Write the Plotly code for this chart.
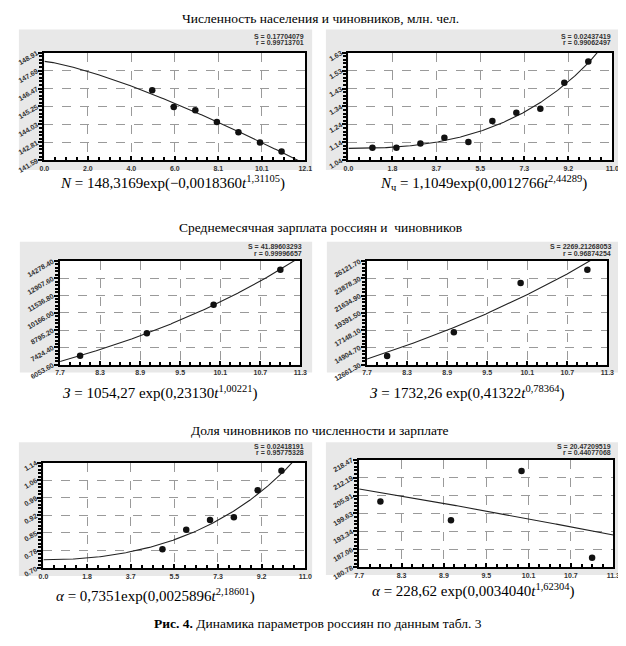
import numpy as np
import plotly.graph_objects as go

W, H = 626, 646

# --- data ---
pop_t = [5, 6, 7, 8, 9, 10, 11]
pop_total = [146.35, 145.21, 144.99, 144.19, 143.49, 142.80, 142.19]

off_t = [1, 2, 3, 4, 5, 6, 7, 8, 9, 10]
off_count = [1.109, 1.109, 1.132, 1.163, 1.140, 1.255, 1.301, 1.323, 1.465, 1.582]

wage_t = [8, 9, 10, 11]
wage_all = [6770, 8550, 10800, 13590]
wage_off = [13800, 16870, 23260, 24990]

share_t = [5, 6, 7, 8, 9, 10]
share_count = [0.779, 0.860, 0.901, 0.912, 1.025, 1.106]
share_wage = [203.8, 197.2, 214.5, 184.1]

# fitted model y = a*exp(b*t^c)
fit_pop = (148.3169, -0.0018360, 1.31105)
fit_off = (1.1049, 0.0012766, 2.44289)
fit_wage_all = (1054.27, 0.23130, 1.00221)
fit_wage_off = (1732.26, 0.41322, 0.78364)
fit_share_count = (0.7351, 0.0025896, 2.18601)
fit_share_wage = (228.62, -0.0034040, 1.62304)

# tick labels
x_ticks_a = ["0.0", "2.0", "4.0", "6.0", "8.1", "10.1", "12.1"]
x_ticks_b = ["0.0", "1.8", "3.7", "5.5", "7.3", "9.2", "11.0"]
x_ticks_c = ["7.7", "8.3", "8.9", "9.5", "10.1", "10.7", "11.3"]
y_ticks_pop = ["141.59", "142.81", "144.03", "145.25", "146.47", "147.69", "148.91"]
y_ticks_off = ["1.04", "1.14", "1.24", "1.34", "1.43", "1.53", "1.63"]
y_ticks_wage_all = ["6053.60", "7424.40", "8795.20", "10166.00", "11536.80", "12907.60", "14278.40"]
y_ticks_wage_off = ["12661.30", "14904.70", "17148.10", "19391.50", "21634.90", "23878.30", "26121.70"]
y_ticks_share_count = ["0.70", "0.78", "0.85", "0.92", "0.99", "1.06", "1.14"]
y_ticks_share_wage = ["180.78", "187.06", "193.34", "199.63", "205.91", "212.19", "218.47"]

panels = [
    dict(t=pop_t, y=pop_total, fit=fit_pop, xt=x_ticks_a, yt=y_ticks_pop,
         box=(32, 298, 43, 154), bg=(6, 305, 19, 164), sy=(26, 33), sx=298,
         stats=("S = 0.17704079", "r = 0.99713701"),
         formula="<i>N</i> = 148,3169exp(−0,0018360<i>t</i><sup>1,31105</sup>)", fy=177, fx=163),
    dict(t=off_t, y=off_count, fit=fit_off, xt=x_ticks_b, yt=y_ticks_off,
         box=(342, 611, 43, 154), bg=(319, 618, 19, 164), sy=(26, 33), sx=611,
         stats=("S = 0.02437419", "r = 0.99062497"),
         formula="<i>N</i><sub>ч</sub> = 1,1049exp(0,0012766<i>t</i><sup>2,44289</sup>)", fy=177, fx=480),
    dict(t=wage_t, y=wage_all, fit=fit_wage_all, xt=x_ticks_c, yt=y_ticks_wage_all,
         box=(48, 293, 258, 365), bg=(7, 305, 238, 373), sy=(243, 250), sx=296,
         stats=("S = 41.89603293", "r = 0.99996657"),
         formula="<i>З</i> = 1054,27 exp(0,23130<i>t</i><sup>1,00221</sup>)", fy=394, fx=150),
    dict(t=wage_t, y=wage_off, fit=fit_wage_off, xt=x_ticks_c, yt=y_ticks_wage_off,
         box=(361, 606, 258, 365), bg=(320, 618, 238, 373), sy=(243, 250), sx=611,
         stats=("S = 2269.21268053", "r = 0.96874254"),
         formula="<i>З</i> = 1732,26 exp(0,41322<i>t</i><sup>0,78364</sup>)", fy=394, fx=463),
    dict(t=share_t, y=share_count, fit=fit_share_count, xt=x_ticks_b, yt=y_ticks_share_count,
         box=(31, 298, 466, 575), bg=(6, 305, 445, 583), sy=(449, 456), sx=298,
         stats=("S = 0.02418191", "r = 0.95775328"),
         formula="<i>α</i> = 0,7351exp(0,0025896<i>t</i><sup>2,18601</sup>)", fy=603, fx=145),
    dict(t=wage_t, y=share_wage, fit=fit_share_wage, xt=x_ticks_c, yt=y_ticks_share_wage,
         box=(353, 612, 463, 574), bg=(319, 618, 445, 582), sy=(449, 456), sx=611,
         stats=("S = 20.47209519", "r = 0.44077068"),
         formula="<i>α</i> = 228,62 exp(0,0034040<i>t</i><sup>1,62304</sup>)", fy=598, fx=469),
]

SERIF = "Liberation Serif, Times New Roman, serif"
SANS = "Liberation Sans, Arial, sans-serif"

fig = go.Figure()
shapes = []
annotations = []
layout_axes = {}

for i, p in enumerate(panels, start=1):
    x0, x1 = float(p["xt"][0]), float(p["xt"][-1])
    y0, y1 = float(p["yt"][0]), float(p["yt"][-1])
    xs = "" if i == 1 else str(i)
    xv = np.linspace(x0, x1, 7)
    yv = np.linspace(y0, y1, 7)
    xminor = np.linspace(x0, x1, 25)
    yminor = np.linspace(y0, y1, 31)

    a, b, c = p["fit"]
    tt = np.linspace(x0, x1, 300)
    fig.add_trace(go.Scatter(x=tt, y=a * np.exp(b * tt ** c), mode="lines",
                             line=dict(color="#222", width=1.1),
                             xaxis="x" + xs, yaxis="y" + xs, showlegend=False,
                             hoverinfo="skip"))
    fig.add_trace(go.Scatter(x=p["t"], y=p["y"], mode="markers",
                             marker=dict(color="#111", size=6.5),
                             xaxis="x" + xs, yaxis="y" + xs, showlegend=False,
                             cliponaxis=False))

    L, R, T, B = p["box"]
    axis_common = dict(showline=True, mirror=True, linecolor="black", linewidth=2,
                       showgrid=True, gridcolor="#9a9a9a", griddash="dash", gridwidth=1,
                       zeroline=False, tickmode="array",
                       tickfont=dict(family=SANS, size=7, color="#333", weight="bold"))
    layout_axes["xaxis" + xs] = dict(
        axis_common, domain=[L / W, R / W], anchor="y" + xs, range=[x0, x1],
        tickvals=list(xv), ticktext=p["xt"], ticks="inside", ticklen=4,
        tickcolor="black", tickwidth=1.5,
        minor=dict(tickvals=list(xminor), ticks="inside", ticklen=3,
                   tickcolor="black", tickwidth=1.5, showgrid=False))
    layout_axes["yaxis" + xs] = dict(
        axis_common, domain=[1 - B / H, 1 - T / H], anchor="x" + xs, range=[y0, y1],
        tickvals=list(yv), ticktext=p["yt"], ticks="outside", ticklen=4,
        tickcolor="black", tickwidth=1.5, tickangle=-30,
        minor=dict(tickvals=list(yminor), ticks="outside", ticklen=3,
                   tickcolor="black", tickwidth=1.5, showgrid=False))

    bl, br, bt, bb = p["bg"]
    shapes.append(dict(type="rect", xref="paper", yref="paper", layer="below",
                       x0=bl / W, x1=br / W, y0=1 - bb / H, y1=1 - bt / H,
                       fillcolor="#e8e8e8", line=dict(width=0)))
    shapes.append(dict(type="rect", xref="paper", yref="paper", layer="below",
                       x0=L / W, x1=R / W, y0=1 - B / H, y1=1 - T / H,
                       fillcolor="white", line=dict(width=0)))
    for line_text, ly in zip(p["stats"], p["sy"]):
        annotations.append(dict(xref="paper", yref="paper", x=p["sx"] / W, y=1 - ly / H,
                                xanchor="right", yanchor="middle", showarrow=False,
                                text=line_text, borderpad=0,
                                font=dict(family=SANS, size=7, color="#333", weight="bold")))
    annotations.append(dict(xref="paper", yref="paper", x=p["fx"] / W, y=1 - p["fy"] / H,
                            xanchor="center", yanchor="middle", showarrow=False,
                            text=p["formula"], font=dict(family=SERIF, size=15, color="black")))

titles = [
    ("Численность населения и чиновников, млн. чел.", 8, 313),
    ("Среднемесячная зарплата россиян и  чиновников", 223, 313),
    ("Доля чиновников по численности и зарплате", 433, 313),
    ("<b>Рис. 4.</b> Динамика параметров россиян по данным табл. 3", 632, 311),
]
for text, yy, xx in titles:
    annotations.append(dict(xref="paper", yref="paper", x=xx / W, y=1 - yy / H,
                            xanchor="center", yanchor="middle", showarrow=False,
                            text=text, font=dict(family=SERIF, size=13.5, color="black")))

fig.update_layout(
    width=W, height=H,
    margin=dict(l=0, r=0, t=0, b=0),
    paper_bgcolor="white", plot_bgcolor="rgba(0,0,0,0)",
    shapes=shapes, annotations=annotations,
    **layout_axes,
)

fig.write_html("out.html")
